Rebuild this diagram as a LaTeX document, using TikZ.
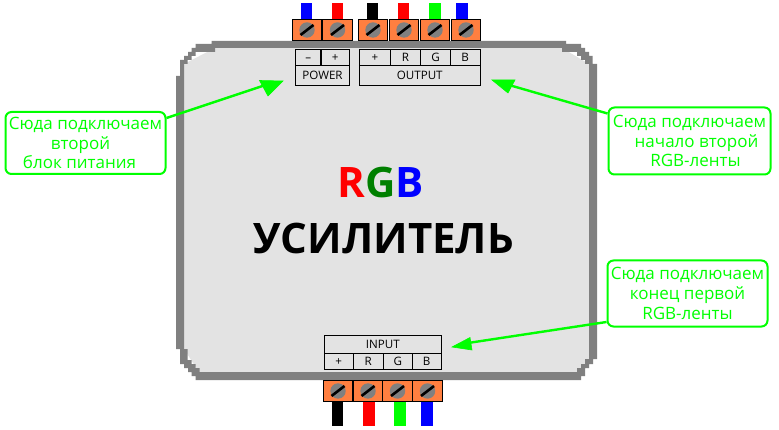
\documentclass[tikz,border=0pt]{standalone}
\usepackage{fontspec}
\setmainfont{Open Sans}
\definecolor{lgreen}{HTML}{00FF00}
\definecolor{bandgray}{HTML}{808080}
\definecolor{panel}{HTML}{E3E3E3}
\definecolor{termorange}{HTML}{FF7F40}
\definecolor{darkg}{HTML}{008000}
\tikzset{
  term/.style={draw=black,line width=1pt,fill=termorange,minimum width=29.5pt,minimum height=21.5pt,inner sep=0pt,
    path picture={
      \fill[bandgray] (path picture bounding box.center) circle (7.7pt);
      \draw[black,line width=2.6pt] ([shift={(-6.5pt,-5pt)}]path picture bounding box.center) -- ([shift={(6.5pt,5pt)}]path picture bounding box.center);
    }},
  wire/.style={inner sep=0pt,minimum width=11.5pt},
  cell/.style={draw=black,line width=1pt,inner sep=0pt,font=\fontsize{11.6}{11.6}\selectfont,text height=8.4pt,text depth=0pt},
  callout/.style={draw=lgreen,line width=2pt,rounded corners=6pt,inner sep=0pt,text=lgreen,align=center,font=\fontsize{17}{19.6}\selectfont},
  pointer/.style={draw=lgreen,line width=2.4pt},
  pointerhead/.style={fill=lgreen,draw=lgreen,line width=.6pt},
  bigtext/.style={inner sep=0pt,font=\fontsize{42}{42}\selectfont\bfseries},
}
\begin{document}
\begin{tikzpicture}[x=1pt,y=-1pt]
\useasboundingbox (0,0) rectangle (779,430);
\fill[white] (0,0) rectangle (779,430);
% housing
\fill[panel] (184,100) -- (184,64) -- (215,48) -- (562,48) -- (589,64) -- (589,359) -- (577,372) -- (199,372) -- (184,349) -- cycle;
\fill[bandgray,even odd rule]
  (176,76) -- (180,76) -- (180,60) -- (184,60) -- (184,56) -- (188,56) -- (188,52) -- (191.5,52) -- (191.5,48) -- (195.5,48) -- (195.5,44) -- (211.5,44) -- (211.5,41)
  -- (566,41) -- (566,44) -- (581,44) -- (581,48) -- (585,48) -- (585,52) -- (589,52) -- (589,56) -- (592.7,56) -- (592.7,64) -- (597,64)
  -- (597,359) -- (593,359) -- (593,364) -- (589,364) -- (589,368) -- (585,368) -- (585,376) -- (581,376) -- (581,380)
  -- (195.5,380) -- (195.5,376) -- (191.5,376) -- (191.5,372) -- (188,372) -- (188,368) -- (184,368) -- (184,364) -- (180,364) -- (180,349) -- (176,349) -- cycle
  (184,349) -- (187.5,349) -- (187.5,360) -- (191.5,360) -- (191.5,364) -- (195.5,364) -- (195.5,368) -- (199.5,368) -- (199.5,372)
  -- (577,372) -- (577,368) -- (581,368) -- (581,364) -- (585,364) -- (585,359) -- (589,359)
  -- (589,64) -- (585,64) -- (585,60) -- (581,60) -- (581,56) -- (577,56) -- (577,52) -- (562,52) -- (562,48)
  -- (215,48) -- (215,52) -- (195.5,52) -- (195.5,56) -- (191.5,56) -- (191.5,60) -- (187.5,60) -- (187.5,64) -- (184,64) -- cycle;
% top wires
\node[wire,fill=blue,minimum height=16pt] (wt1) at (306.5,11) {};
\node[wire,fill=red,minimum height=16pt] (wt2) at (337.5,11) {};
\node[wire,fill=black,minimum height=16pt] (wt3) at (372.5,11) {};
\node[wire,fill=red,minimum height=16pt] (wt4) at (403.5,11) {};
\node[wire,fill=lgreen,minimum height=16pt] (wt5) at (435,11) {};
\node[wire,fill=blue,minimum height=16pt] (wt6) at (462,11) {};
% top terminals
\node[term] (tt1) at (307,30) {};
\node[term] (tt2) at (337.5,30) {};
\node[term] (tt3) at (373,30) {};
\node[term] (tt4) at (404,30) {};
\node[term] (tt5) at (435,30) {};
\node[term] (tt6) at (466,30) {};
% POWER
\node[cell,minimum width=25.5pt,minimum height=16pt] (pm) at (308.2,57.5) {–};
\node[cell,minimum width=28.5pt,minimum height=16pt] (pp) at (335.25,57.5) {+};
\node[cell,minimum width=54pt,minimum height=20pt] (pw) at (322.5,75.5) {POWER};
% OUTPUT
\node[cell,minimum width=31pt,minimum height=16pt] (op) at (375,57.5) {+};
\node[cell,minimum width=30pt,minimum height=16pt] (or) at (405.5,57.5) {R};
\node[cell,minimum width=30pt,minimum height=16pt] (og) at (435.5,57.5) {G};
\node[cell,minimum width=29.5pt,minimum height=16pt] (ob) at (465.25,57.5) {B};
\node[cell,minimum width=120.5pt,minimum height=20pt] (ou) at (419.75,75.5) {OUTPUT};
% INPUT
\node[cell,minimum width=117pt,minimum height=18pt] (in) at (382.75,344.5) {INPUT};
\node[cell,minimum width=29pt,minimum height=16pt] (ip) at (338.75,361.5) {+};
\node[cell,minimum width=30pt,minimum height=16pt] (ir) at (368.25,361.5) {R};
\node[cell,minimum width=29pt,minimum height=16pt] (ig) at (397.75,361.5) {G};
\node[cell,minimum width=29pt,minimum height=16pt] (ib) at (426.75,361.5) {B};
% bottom terminals
\node[term] (bt1) at (338,391) {};
\node[term] (bt2) at (368,391) {};
\node[term] (bt3) at (397.5,391) {};
\node[term] (bt4) at (427.5,391) {};
% bottom wires
\node[wire,fill=black,minimum height=24pt] (wb1) at (337.5,414) {};
\node[wire,fill=red,minimum height=24pt] (wb2) at (369,414) {};
\node[wire,fill=lgreen,minimum height=24pt] (wb3) at (400,414) {};
\node[wire,fill=blue,minimum height=24pt] (wb4) at (427,414) {};
% central title
\node[bigtext,anchor=base] (rgb) at (380.5,198) {\textcolor{red}{R}\textcolor{darkg}{G}\textcolor{blue}{B}};
\node[bigtext,anchor=base] (amp) at (384,254) {УСИЛИТЕЛЬ};
% callouts
\node[callout,minimum width=160pt,minimum height=62pt] (cl) at (85.5,143) {Сюда подключаем\\\hspace*{-10pt}второй\\\hspace*{-12pt}блок питания};
\node[callout,minimum width=162pt,minimum height=67pt] (cr) at (689.5,141) {Сюда подключаем\\\hspace*{14pt}начало второй\\\hspace*{12pt}RGB-ленты};
\node[callout,minimum width=160pt,minimum height=66pt] (cb) at (687.5,293.5) {Сюда подключаем\\конец первой\\RGB-ленты};
% pointers
\coordinate (al) at (264,85.5);
\coordinate (ar) at (509,85);
\coordinate (ab) at (468,343);
\draw[pointer] (cl.east |- 0,118) -- (al);
\draw[pointer] (cr.west |- 0,113.5) -- (ar);
\draw[pointer] (cb.west |- 0,322) -- (ab);
\draw[pointerhead] (259.5,80.5) -- (283,81) -- (268,96) -- cycle;
\draw[pointerhead] (492,80) -- (515,80) -- (508,93) -- cycle;
\draw[pointerhead] (452,347) -- (470,337.5) -- (472,350) -- cycle;
\end{tikzpicture}
\end{document}
